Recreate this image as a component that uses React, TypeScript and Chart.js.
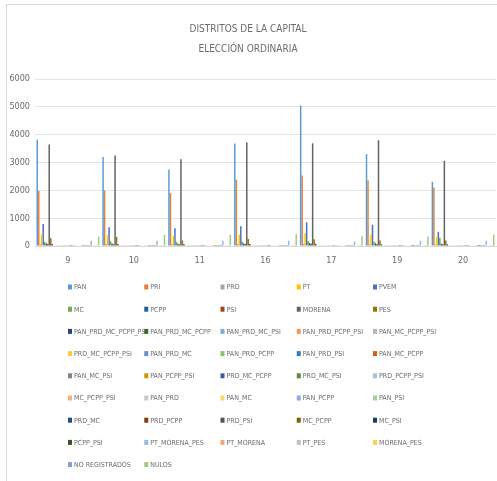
import { useEffect, useRef } from "react";
import { Chart, registerables } from "chart.js";

Chart.register(...registerables);

const FONT = '"Liberation Sans Narrow", "DejaVu Sans Condensed", "Open Sans", sans-serif';
const TEXT = "#6b6b6b";
const GRID = "#e3e3e3";

const TITLE_LINES = ["DISTRITOS DE LA CAPITAL", "ELECCIÓN ORDINARIA"];
const DISTRITOS = ["9", "10", "11", "16", "17", "19", "20"];
const Y_MIN = 0;
const Y_MAX = 6000;
const Y_STEP = 1000;

// Values (votes per district)
const PAN = [3830, 3200, 2750, 3680, 5050, 3300, 2310];
const PRI = [1980, 2000, 1900, 2380, 2530, 2350, 2100];
const PRD = [60, 70, 60, 70, 80, 60, 50];
const PT = [420, 400, 360, 400, 460, 400, 330];
const PVEM = [790, 670, 640, 710, 850, 760, 510];
const MC = [150, 170, 150, 160, 180, 150, 300];
const PCPP = [100, 90, 80, 90, 110, 100, 80];
const PSI = [70, 60, 60, 70, 80, 60, 60];
const MORENA = [3650, 3250, 3120, 3730, 3690, 3800, 3060];
const PES = [280, 330, 200, 250, 240, 200, 200];
const PAN_PRD_MC_PCPP_PSI = [70, 60, 60, 70, 80, 60, 60];
const PAN_PRD_MC_PCPP = [20, 15, 15, 20, 20, 15, 15];
const PAN_PRD_MC_PSI = [10, 8, 8, 10, 12, 8, 8];
const PAN_PRD_PCPP_PSI = [8, 6, 6, 8, 10, 6, 6];
const PAN_MC_PCPP_PSI = [10, 8, 8, 10, 10, 8, 8];
const PRD_MC_PCPP_PSI = [5, 4, 4, 5, 6, 4, 4];
const PAN_PRD_MC = [12, 10, 10, 12, 14, 10, 10];
const PAN_PRD_PCPP = [8, 6, 6, 8, 9, 6, 6];
const PAN_PRD_PSI = [10, 8, 8, 10, 12, 8, 8];
const PAN_MC_PCPP = [10, 8, 8, 10, 10, 8, 8];
const PAN_MC_PSI = [12, 10, 10, 12, 12, 10, 10];
const PAN_PCPP_PSI = [9, 8, 8, 9, 10, 8, 8];
const PRD_MC_PCPP = [4, 3, 3, 4, 5, 3, 3];
const PRD_MC_PSI = [4, 3, 3, 4, 5, 3, 3];
const PRD_PCPP_PSI = [4, 3, 3, 4, 4, 3, 3];
const MC_PCPP_PSI = [5, 4, 4, 5, 6, 4, 4];
const PAN_PRD = [25, 20, 20, 25, 28, 20, 20];
const PAN_MC = [18, 15, 15, 18, 20, 15, 15];
const PAN_PCPP = [15, 12, 12, 15, 16, 12, 12];
const PAN_PSI = [20, 16, 16, 20, 22, 16, 16];
const PRD_MC = [6, 5, 5, 6, 7, 5, 5];
const PRD_PCPP = [5, 4, 4, 5, 6, 4, 4];
const PRD_PSI = [6, 5, 5, 6, 6, 5, 5];
const MC_PCPP = [6, 5, 5, 6, 7, 5, 5];
const MC_PSI = [7, 6, 6, 7, 8, 6, 6];
const PCPP_PSI = [8, 6, 6, 8, 9, 6, 6];
const PT_MORENA_PES = [190, 190, 190, 190, 160, 190, 190];
const PT_MORENA = [20, 25, 20, 20, 20, 20, 20];
const PT_PES = [8, 10, 8, 8, 8, 8, 8];
const MORENA_PES = [35, 40, 35, 35, 30, 35, 35];
const NO_REGISTRADOS = [10, 8, 10, 10, 8, 8, 10];
const NULOS = [340, 400, 400, 420, 370, 340, 400];

const SERIES: [string, number[]][] = [
  ["PAN", PAN], ["PRI", PRI], ["PRD", PRD], ["PT", PT], ["PVEM", PVEM],
  ["MC", MC], ["PCPP", PCPP], ["PSI", PSI], ["MORENA", MORENA], ["PES", PES],
  ["PAN_PRD_MC_PCPP_PSI", PAN_PRD_MC_PCPP_PSI], ["PAN_PRD_MC_PCPP", PAN_PRD_MC_PCPP],
  ["PAN_PRD_MC_PSI", PAN_PRD_MC_PSI], ["PAN_PRD_PCPP_PSI", PAN_PRD_PCPP_PSI],
  ["PAN_MC_PCPP_PSI", PAN_MC_PCPP_PSI],
  ["PRD_MC_PCPP_PSI", PRD_MC_PCPP_PSI], ["PAN_PRD_MC", PAN_PRD_MC], ["PAN_PRD_PCPP", PAN_PRD_PCPP],
  ["PAN_PRD_PSI", PAN_PRD_PSI], ["PAN_MC_PCPP", PAN_MC_PCPP],
  ["PAN_MC_PSI", PAN_MC_PSI], ["PAN_PCPP_PSI", PAN_PCPP_PSI], ["PRD_MC_PCPP", PRD_MC_PCPP],
  ["PRD_MC_PSI", PRD_MC_PSI], ["PRD_PCPP_PSI", PRD_PCPP_PSI],
  ["MC_PCPP_PSI", MC_PCPP_PSI], ["PAN_PRD", PAN_PRD], ["PAN_MC", PAN_MC], ["PAN_PCPP", PAN_PCPP],
  ["PAN_PSI", PAN_PSI],
  ["PRD_MC", PRD_MC], ["PRD_PCPP", PRD_PCPP], ["PRD_PSI", PRD_PSI], ["MC_PCPP", MC_PCPP],
  ["MC_PSI", MC_PSI],
  ["PCPP_PSI", PCPP_PSI], ["PT_MORENA_PES", PT_MORENA_PES], ["PT_MORENA", PT_MORENA],
  ["PT_PES", PT_PES], ["MORENA_PES", MORENA_PES],
  ["NO REGISTRADOS", NO_REGISTRADOS], ["NULOS", NULOS],
];

const COLORS = [
  "#5B9BD5", "#ED7D31", "#A5A5A5", "#FFC000", "#4472C4", "#70AD47",
  "#255E91", "#9E480E", "#636363", "#997300", "#264478", "#43682B",
  "#7CAFDD", "#F1975A", "#B7B7B7", "#FFCD33", "#698ED0", "#8CC168",
  "#327DC2", "#D26012", "#848484", "#CC9A00", "#3A5FA0", "#5A8A39",
  "#9DC3E6", "#F4B183", "#C9C9C9", "#FFD966", "#8FAADC", "#A9D18E",
  "#1F4E79", "#843C0C", "#525252", "#7F6000", "#203864", "#375623",
  "#91BDE4", "#F4A57A", "#C0C0C0", "#FFD24D", "#7F9FD9", "#9ECB81",
];

const framePlugin = {
  id: "frame",
  beforeDraw(chart: any) {
    const ctx = chart.ctx;
    ctx.save();
    ctx.fillStyle = "#ffffff";
    ctx.fillRect(0, 0, chart.width, chart.height);
    ctx.strokeStyle = "#d9d9d9";
    ctx.lineWidth = 1;
    ctx.strokeRect(6.5, 4.5, 700, 700);
    ctx.restore();
  },
};

const legendGridPlugin = {
  id: "legendGrid",
  afterDraw(chart: any) {
    const ctx = chart.ctx;
    ctx.save();
    ctx.font = `7px ${FONT}`;
    ctx.textBaseline = "middle";
    ctx.textAlign = "left";
    chart.data.datasets.forEach((ds: any, i: number) => {
      const col = i % 5;
      const row = Math.floor(i / 5);
      const x = 68 + col * 76.25;
      const y = 287.5 + row * 22.2;
      ctx.fillStyle = ds.backgroundColor;
      ctx.fillRect(x, y - 3, 4, 5);
      ctx.fillStyle = TEXT;
      ctx.fillText(ds.label, x + 6, y);
    });
    ctx.restore();
  },
};

export default function App() {
  const ref = useRef<HTMLCanvasElement>(null);

  useEffect(() => {
    if (!ref.current) return;
    const chart = new Chart(ref.current, {
      type: "bar",
      data: {
        labels: DISTRITOS,
        datasets: SERIES.map(([label, data], i) => ({
          label,
          data,
          backgroundColor: COLORS[i],
          borderWidth: 0,
          categoryPercentage: 0.955,
          barPercentage: 1,
        })),
      },
      options: {
        responsive: false,
        animation: false,
        devicePixelRatio: 1,
        layout: { padding: { left: 0, right: 1, top: 0, bottom: 210 } },
        plugins: {
          legend: { display: false },
          tooltip: { enabled: false },
          title: {
            display: true,
            text: TITLE_LINES,
            color: TEXT,
            font: { family: FONT, size: 10, weight: "normal", lineHeight: 2 },
            padding: { top: 19, bottom: 20 },
          },
        },
        scales: {
          x: {
            grid: { display: false, drawTicks: false },
            border: { display: true, color: "#d9d9d9" },
            ticks: { color: TEXT, font: { family: FONT, size: 9 }, padding: 9 },
            afterFit: (s: any) => { s.height = 25; },
          },
          y: {
            min: Y_MIN,
            max: Y_MAX,
            ticks: {
              stepSize: Y_STEP,
              color: TEXT,
              font: { family: FONT, size: 9 },
              padding: 5,
              callback: (v: any) => String(v),
            },
            grid: { color: GRID, drawTicks: false },
            border: { display: false },
            afterFit: (s: any) => { s.width = 35; },
          },
        },
      },
      plugins: [framePlugin, legendGridPlugin],
    });
    return () => chart.destroy();
  }, []);

  return (
    <div style={{ position: "fixed", left: 0, top: 0, width: 497, height: 481, overflow: "hidden", background: "#fff" }}>
      <canvas ref={ref} width={497} height={481} style={{ width: 497, height: 481, display: "block" }} />
    </div>
  );
}
